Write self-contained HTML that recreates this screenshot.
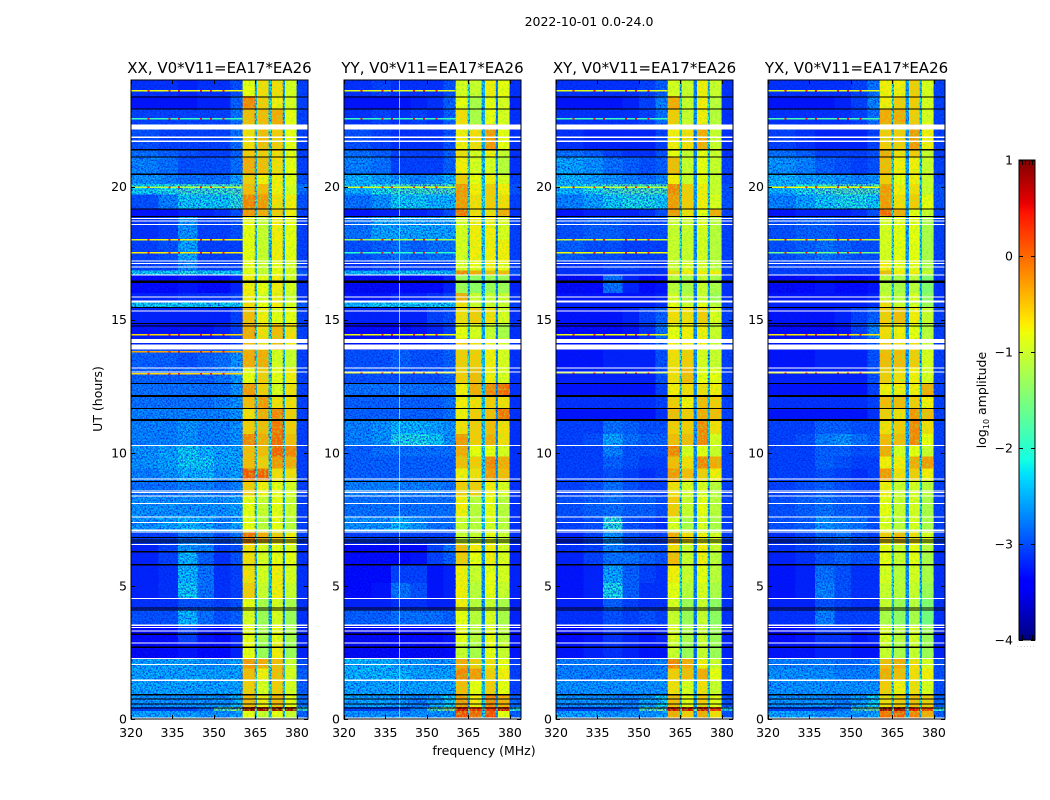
<!DOCTYPE html>
<html lang="en">
<head>
<meta charset="utf-8">
<title>2022-10-01 0.0-24.0</title>
<style>
html,body{margin:0;padding:0;background:#fff;width:1050px;height:800px;overflow:hidden}
svg{display:block}
text{font-family:"DejaVu Sans","Liberation Sans",sans-serif;fill:#000}
</style>
</head>
<body>
<svg id="chart" xmlns="http://www.w3.org/2000/svg" width="1050" height="800" viewBox="0 0 1050 800">
<defs>
<filter id="speckle" x="0" y="0" width="1" height="1" color-interpolation-filters="sRGB">
<feTurbulence type="fractalNoise" baseFrequency="0.6" numOctaves="2" seed="7"/>
<feColorMatrix type="matrix" values="0 0 0 0 0  0 0 0 0 0.12  0 0 0 0 0.92  2.2 0 0 0 -0.8"/>
</filter>
<filter id="band-speckle" x="0" y="0" width="1" height="1" color-interpolation-filters="sRGB">
<feTurbulence type="fractalNoise" baseFrequency="0.45" numOctaves="2" seed="3"/>
<feColorMatrix type="matrix" values="0 0 0 0 0.55  0 0 0 0 0.95  0 0 0 0 0.2  1.8 0 0 0 -0.75"/>
</filter>
</defs>
<rect x="0" y="0" width="1050" height="800" fill="#fff"/>
<text x="589" y="26" font-size="12.5" text-anchor="middle">2022-10-01 0.0-24.0</text>
<text x="484" y="755" font-size="12.5" text-anchor="middle">frequency (MHz)</text>
<text x="102" y="399" font-size="12.5" text-anchor="middle" transform="rotate(-90 102 399)">UT (hours)</text>
<text x="986" y="400" font-size="12.5" text-anchor="middle" transform="rotate(-90 986 400)">log<tspan font-size="8" dy="3">10</tspan><tspan dy="-3"> amplitude</tspan></text>
<text x="1017" y="647" font-size="5" letter-spacing="1.6" style="fill:#666">......</text>
<g id="panels"></g>
<g id="colorbar"></g>
</svg>
<script>
// frequency channel-group edges (MHz)
const freqEdges = [320,330,337,344,350,356,360.4,364.8,365.5,369.8,370.9,374.9,375.6,379.9,384];
// time band edges (UT hours, descending)
const timeEdges = [24,23.4,22.9,22.35,21.4,21.1,20.45,20.1,19.7,19.15,18.85,18,17.2,16.85,16.65,16,15.65,15.45,14.85,14.3,13.85,13.2,12.6,12.15,11.65,11.2,10.7,10.25,9.85,9.4,8.95,8.4,7.6,7,6.6,6.3,5.8,5.1,4.55,4.1,3.5,2.9,2.3,1.9,1.45,0.9,0.45,0.3,0];
const xTicks = [320,335,350,365,380];
const yTicks = [0,5,10,15,20];
const colorTicks = [-4,-3,-2,-1,0,1];
const panelTitles = ["XX, V0*V11=EA17*EA26","YY, V0*V11=EA17*EA26","XY, V0*V11=EA17*EA26","YX, V0*V11=EA17*EA26"];

// log10 amplitude, one row per time band, one value per channel group
const xxValues = [
[-3.1,-3.1,-3.2,-3.1,-3.1,-2.9,-.8,-2.3,-.6,-2.2,-.6,-2.4,-.9,-3],
[-3.3,-3.3,-3.3,-3.2,-3.2,-2.8,-.1,-2,-.5,-2,-.7,-2.2,-.9,-3],
[-3,-3,-3,-3,-3,-2.7,-.4,-2,-.4,-2,-.3,-2.2,-.8,-3],
[-2.9,-3,-3,-3,-3,-2.7,-.6,-2.1,-.4,-2,-.5,-2.2,-.8,-3],
[-2.7,-2.8,-2.9,-3,-3,-2.8,-.5,-2,-.5,-2,-.6,-2.2,-.8,-3],
[-2.6,-2.7,-2.9,-2.9,-2.9,-2.7,-.3,-2,-.4,-2,-.6,-2.2,-.8,-3],
[-2.5,-2.6,-2.7,-2.7,-2.7,-2.4,-.5,-2,-.7,-2,-.7,-2.2,-.8,-2.9],
[-2.2,-2.1,-1.9,-1.9,-1.9,-1.8,-.4,-1.9,-.4,-2,-.7,-2.1,-.9,-2.7],
[-2.9,-2.6,-2.2,-2.2,-2.2,-2,-.1,-2,-.2,-2,-.6,-2.1,-.7,-2.9],
[-3.3,-3.3,-3.2,-3.2,-3.1,-2.9,-.2,-2.2,-.3,-2.2,-.5,-2.3,-.7,-3],
[-3.1,-3,-2.5,-3,-3,-2.9,-.8,-2,-1,-2,-.7,-2.1,-.8,-3],
[-3,-2.9,-2.4,-3,-3,-3,-.8,-2.2,-1,-2.2,-.7,-2.3,-.8,-3],
[-3,-3,-2.6,-3,-3,-3,-.8,-2.2,-1,-2.2,-.8,-2.3,-.9,-3],
[-2.2,-2.2,-2.1,-2.2,-2.2,-2.2,-.8,-2,-1,-2,-.8,-2.2,-.9,-2.8],
[-3.4,-3.4,-3.3,-3.4,-3.4,-3.2,-.7,-2.2,-.8,-2.2,-.7,-2.3,-.9,-3.1],
[-3.2,-3.2,-3.1,-3.1,-3.1,-3,-.7,-2.2,-.9,-2.2,-.7,-2.3,-1,-3.1],
[-2.2,-2.2,-2.2,-2.2,-2.2,-2.2,-.6,-2,-.8,-2,-.7,-2.2,-.9,-2.8],
[-3.2,-3.2,-3.2,-3.2,-3.2,-3,-.4,-2,-.7,-2,-.8,-2.2,-.8,-3],
[-3.3,-3.3,-3.3,-3.3,-3.2,-3,-.3,-2,-.6,-2,-.4,-2.2,-.6,-3],
[-3.2,-3.2,-3.2,-3.2,-3.2,-3,-.4,-2,-.6,-2,-.4,-2.2,-.7,-3],
[-2.8,-2.8,-2.9,-2.8,-2.7,-2.5,-.3,-2,-.3,-2,-.9,-2.2,-1,-3],
[-2.8,-2.8,-2.8,-2.8,-2.7,-2.5,-.8,-2,-.5,-2,-.8,-2.2,-.7,-3],
[-2.7,-2.7,-2.7,-2.7,-2.7,-2.5,-.2,-2,-.5,-2,-.9,-2.2,-.6,-3],
[-2.7,-2.7,-2.7,-2.7,-2.6,-2.5,-.4,-2,-.2,-2,-.6,-2.2,-.6,-3],
[-2.6,-2.6,-2.6,-2.6,-2.6,-2.5,-.6,-2,-.3,-2,-.1,-2.2,-.5,-3],
[-2.6,-2.6,-2.5,-2.6,-2.6,-2.5,-.5,-2,-.4,-2,0,-2.2,-.5,-3],
[-2.6,-2.6,-2.5,-2.6,-2.6,-2.5,-.1,-2,-.3,-2,.05,-2.2,-.4,-3],
[-2.5,-2.4,-2.2,-2.3,-2.4,-2.4,-.4,-2,-.4,-2,.1,-2.2,-.1,-3],
[-2.5,-2.4,-2.2,-2.2,-2.4,-2.4,-.4,-2,-.5,-2,-.2,-2.2,-.3,-3],
[-2.6,-2.5,-2.3,-2.3,-2.5,-2.4,.15,-2,.1,-2,-.6,-2.2,-.6,-3],
[-2.7,-2.7,-2.6,-2.6,-2.7,-2.6,-.5,-2,-.7,-2,-.8,-2.2,-.9,-3],
[-2.5,-2.5,-2.5,-2.5,-2.5,-2.4,-.8,-2,-1,-2,-.8,-2.2,-1,-3],
[-2.5,-2.4,-2.3,-2.4,-2.6,-2.4,-.8,-2,-1.1,-2,-.8,-2.2,-1.1,-3],
[-3,-3,-2.7,-2.7,-2.9,-2.7,0,-2,-.3,-2,-.5,-2.2,-.7,-3],
[-3.2,-3,-2.5,-2.6,-3,-2.9,-.6,-2.2,-.9,-2.2,-.8,-2.4,-.9,-3.1],
[-3.2,-3,-2.3,-2.8,-3.1,-2.9,-.6,-2.2,-.9,-2.2,-.8,-2.4,-.8,-3.1],
[-3.2,-3.1,-2.3,-2.7,-3.1,-3,-.6,-2.2,-.9,-2.2,-.7,-2.4,-.9,-3.1],
[-3.2,-3.1,-2.2,-2.7,-3.1,-3,-.5,-2.2,-1,-2.2,-.7,-2.4,-1,-3.1],
[-3.1,-3.1,-2.9,-2.9,-3,-2.9,-.8,-2.3,-1.2,-2.3,-.9,-2.5,-1.2,-3.1],
[-2.9,-2.9,-2.3,-2.7,-2.9,-2.8,-.9,-2.3,-1.3,-2.3,-.9,-2.5,-1.3,-3.1],
[-3.4,-3.4,-3,-3.3,-3.4,-3.2,-.8,-2.3,-1.2,-2.3,-.8,-2.5,-1.2,-3.2],
[-3.5,-3.4,-3.3,-3.4,-3.4,-3.2,-.8,-2.4,-1.3,-2.4,-.7,-2.5,-1.3,-3.2],
[-2.4,-2.4,-2.4,-2.5,-2.5,-2.4,-.2,-2,-.3,-2,-.4,-2.2,-1,-2.9],
[-2.4,-2.4,-2.4,-2.4,-2.4,-2.4,-.4,-2,-.7,-2,-.4,-2.2,-.9,-2.8],
[-2.4,-2.4,-2.4,-2.4,-2.4,-2.4,-.5,-2,-.9,-2,-.5,-2.2,-.9,-2.8],
[-2.5,-2.5,-2.5,-2.5,-2.5,-2.3,-.4,-2,-.7,-2,-.4,-2.2,-.8,-2.7],
[-3,-3,-3,-2.7,-1.7,-1.4,.85,-1.3,.85,-1.3,.85,-1.3,.85,-1.9],
[-2.4,-2.4,-2.4,-2.5,-2.5,-2.4,-.8,-2.1,-1,-2.1,-.8,-2.2,-1,-2.8]
];
const yyValues = [
[-3.1,-3,-3.1,-3.1,-3.1,-2.9,-.9,-2,-1,-2.3,-.7,-2.6,-.8,-3.1],
[-3.3,-3.3,-3.3,-3.2,-3.1,-2.8,-.8,-2.1,-1.2,-2.3,-.8,-2.7,-.9,-3.2],
[-3.1,-3,-3.1,-3,-3.1,-2.8,-.6,-2.1,-1.2,-2.3,-.8,-2.6,-.9,-3.1],
[-2.9,-3,-3.1,-3.1,-3.1,-2.9,-.7,-2,-.6,-2.3,-.2,-2.6,-.8,-3.1],
[-2.7,-2.8,-3,-3,-3,-2.8,-.6,-1.9,-.9,-2.2,-.7,-2.6,-1,-3.1],
[-2.6,-2.7,-3,-3,-3,-2.8,-.7,-1.9,-.9,-2.2,-.9,-2.5,-1.1,-3.1],
[-2.3,-2.4,-2.5,-2.6,-2.5,-2.3,-.5,-2,-.8,-2.2,-.7,-2.4,-.9,-3],
[-2.3,-2.1,-1.9,-1.9,-1.8,-1.8,-.2,-2,-.7,-2.1,-.5,-2.5,-.7,-2.9],
[-2.7,-2.5,-2.2,-2.2,-2.3,-2.3,-.2,-2,-.6,-2.1,-.5,-2.4,-.6,-3],
[-3.3,-3.2,-3.2,-3.2,-3.1,-2.9,0,-2.1,-.6,-2.3,-.6,-2.5,-.3,-3.1],
[-2.7,-2.4,-2.4,-2.4,-2.4,-2.4,-.9,-1.9,-.7,-2.2,-.7,-2.5,-.9,-3],
[-2.9,-2.8,-2.7,-2.8,-2.7,-2.7,-.9,-2,-.7,-2.2,-.7,-2.5,-.7,-3],
[-3.1,-3,-3,-3,-3,-3,-.9,-2,-.8,-2.2,-.7,-2.5,-.8,-3],
[-2.3,-2.3,-2.2,-2.2,-2.2,-2.3,-.1,-2,-.3,-2.2,-.4,-2.4,-.4,-2.8],
[-3.5,-3.5,-3.4,-3.4,-3.4,-3.2,-1.3,-2.2,-1.4,-2.3,-1.3,-2.5,-1.3,-3.2],
[-3.3,-3.3,-3.2,-3.2,-3.1,-3,-.3,-2,-1,-2.2,-1,-2.6,-1,-3.1],
[-2.3,-2.2,-2.2,-2.2,-2.2,-2.2,-.6,-2,-1,-2.2,-1,-2.5,-1,-3],
[-3.2,-3.2,-3.2,-3.2,-3,-2.9,-.6,-2,-.5,-2.2,-.6,-2.5,-.9,-3.1],
[-3.4,-3.4,-3.4,-3.3,-3.2,-3,-.8,-2.1,-.9,-2.3,-1,-2.6,-1.2,-3.1],
[-3.3,-3.3,-3.3,-3.3,-3.2,-3,-.5,-2.1,-.6,-2.3,-.7,-2.6,-.9,-3.1],
[-2.9,-2.9,-2.8,-2.9,-2.9,-2.8,-.5,-2,-.5,-2.2,-.7,-2.5,-.9,-3.1],
[-2.9,-2.9,-2.9,-2.9,-2.9,-2.8,-.5,-2,-.4,-2.2,-.7,-2.5,-.9,-3.1],
[-2.7,-2.7,-2.7,-2.7,-2.7,-2.7,-.7,-2,-.3,-2.2,-.1,-2.5,.05,-3.1],
[-2.8,-2.8,-2.8,-2.8,-2.8,-2.7,-.7,-2,-.6,-2.2,-.5,-2.5,-.6,-3.1],
[-2.8,-2.8,-2.8,-2.8,-2.8,-2.7,-.7,-2,-.5,-2.2,-.4,-2.5,0,-3.1],
[-2.6,-2.5,-2.3,-2.3,-2.4,-2.5,-.6,-2,-.5,-2.2,-.4,-2.5,-.6,-3.1],
[-2.6,-2.5,-2.1,-2.1,-2.2,-2.5,-.2,-2,-.5,-2.2,-.3,-2.5,-.6,-3.1],
[-2.8,-2.7,-2.7,-2.7,-2.7,-2.7,-.3,-2,-.8,-2.2,-.8,-2.5,-.9,-3.1],
[-2.8,-2.8,-2.8,-2.8,-2.8,-2.8,-.4,-2,-.5,-2.2,-.1,-2.5,-.3,-3.1],
[-2.8,-2.8,-2.8,-2.8,-2.8,-2.8,-.7,-2,-.6,-2.2,-.2,-2.5,-.4,-3.1],
[-2.6,-2.6,-2.6,-2.6,-2.6,-2.7,-.5,-2,-.5,-2.2,-.7,-2.5,-.9,-3.1],
[-2.7,-2.7,-2.7,-2.7,-2.7,-2.7,-.7,-2,-1.1,-2.2,-.8,-2.5,-1.1,-3.1],
[-2.5,-2.5,-2.3,-2.5,-2.7,-2.7,-1,-2,-1.1,-2.2,-.9,-2.5,-1.1,-3.1],
[-3,-3,-3,-3,-3,-3,-1,-2,-1,-2.3,-.8,-2.6,-1,-3.1],
[-3.4,-3.4,-3.4,-3.4,-3,-2.7,-.4,-2.1,-.7,-2.4,-.7,-2.7,-.9,-3.2],
[-3.4,-3.4,-3.4,-3.3,-3,-2.8,-.5,-2.1,-.8,-2.4,-.7,-2.7,-.9,-3.2],
[-3.4,-3.4,-3,-3,-3.3,-3.2,-.7,-2.1,-1,-2.5,-.8,-2.7,-.9,-3.2],
[-3.4,-3.3,-2.7,-2.9,-3.3,-3.2,-.7,-2.1,-1.1,-2.5,-.8,-2.7,-1,-3.2],
[-3.2,-3.2,-3.1,-3.1,-3.2,-3.2,-.7,-2.1,-1.1,-2.5,-1,-2.7,-1.2,-3.2],
[-2.8,-2.8,-2.7,-2.7,-2.7,-2.8,-.8,-2.2,-1.1,-2.5,-.9,-2.7,-1.2,-3.2],
[-3.5,-3.5,-3.4,-3.4,-3.4,-3.3,-.8,-2.2,-1.1,-2.5,-.8,-2.7,-1.1,-3.3],
[-3.5,-3.5,-3.4,-3.5,-3.5,-3.4,-1,-2.2,-1.2,-2.5,-.8,-2.7,-1,-3.3],
[-2.3,-2.3,-2.4,-2.4,-2.5,-2.5,-.3,-2,-.5,-2.2,-.6,-2.5,-.8,-3],
[-2.3,-2.3,-2.3,-2.4,-2.4,-2.4,-.1,-2,-.2,-2.2,-.5,-2.5,-.7,-3],
[-2.4,-2.4,-2.4,-2.4,-2.4,-2.4,-.4,-2,-.8,-2.2,-.5,-2.5,-.8,-3],
[-2.4,-2.4,-2.5,-2.6,-2.4,-2.2,-.2,-2,-.7,-2.2,-.1,-2.4,-.3,-2.8],
[-3,-3,-3,-2.6,-1.7,-1.3,.6,-1.4,.4,-1.4,.4,-1.5,.6,-2],
[-2.5,-2.5,-2.5,-2.5,-2.5,-2.5,.2,-2,.1,-2.2,.2,-2.4,-.8,-2.8]
];
const xyValues = [
[-3.1,-3.1,-3.1,-3.1,-3,-2.8,-.9,-2.1,-1,-2.6,-.7,-2.1,-1,-3.1],
[-3.3,-3.3,-3.3,-3.2,-3,-2.6,-.3,-2,-1,-2.5,-.7,-2.1,-1.1,-3.1],
[-3.1,-3.1,-3.1,-3.1,-3,-2.7,-.5,-2,-1,-2.5,-.7,-2.1,-1.1,-3.1],
[-3.1,-3.2,-3.2,-3.2,-3.2,-3,-.7,-2.1,-.6,-2.6,-.3,-2.2,-1,-3.1],
[-2.7,-2.8,-3,-3.1,-3.1,-2.9,-.8,-2.1,-1,-2.6,-.8,-2.2,-1,-3.1],
[-2.4,-2.5,-2.7,-2.8,-2.9,-2.8,-.4,-2,-1,-2.5,-.8,-2.2,-1,-3],
[-2.3,-2.4,-2.5,-2.6,-2.7,-2.6,-.7,-2,-1,-2.5,-.8,-2.2,-1,-3],
[-2.3,-2.1,-1.9,-1.8,-1.8,-1.8,-.1,-2,-.5,-2.4,-.7,-2.1,-1,-2.9],
[-2.6,-2.4,-2.2,-2.1,-2.1,-2.2,-.2,-2,-.5,-2.4,-.7,-2.1,-.9,-2.9],
[-3.3,-3.2,-3.2,-3.2,-3.1,-2.9,-.2,-2,-.6,-2.5,-.8,-2.2,-.3,-3],
[-2.9,-2.8,-2.8,-2.9,-2.9,-2.9,-1,-2,-1,-2.5,-.9,-2.2,-1.1,-3],
[-2.8,-2.9,-2.9,-3,-3,-3,-1,-2,-1,-2.5,-.9,-2.2,-1.1,-3],
[-3.1,-3.1,-3,-3,-3.1,-3.1,-1,-2,-.9,-2.5,-.9,-2.2,-1.1,-3],
[-3.1,-3.1,-3.1,-3.1,-3.1,-3.1,-.6,-2,-.7,-2.5,-.7,-2.2,-.7,-3],
[-3.5,-3.4,-2.7,-3.2,-3.4,-3.3,-1.1,-2.1,-1.2,-2.6,-1,-2.3,-1.2,-3.1],
[-3.3,-3.3,-3.3,-3.3,-3.3,-3.2,-.9,-2.1,-1.1,-2.6,-1,-2.3,-1.3,-3.1],
[-3.2,-3.2,-3.2,-3.2,-3.2,-3.1,-.8,-2,-1,-2.5,-.8,-2.2,-1.1,-3],
[-3.3,-3.3,-3.3,-3.2,-3,-2.8,-.6,-2,-.6,-2.5,-.5,-2.2,-.9,-3],
[-3.4,-3.4,-3.4,-3.3,-3.1,-2.7,-.8,-2,-.7,-2.5,-.7,-2.2,-1,-3],
[-3.3,-3.3,-3.3,-3.3,-3.1,-2.8,-.7,-2,-.7,-2.5,-.7,-2.2,-1,-3],
[-3.3,-3.3,-3.2,-3.2,-3.2,-2.9,-.6,-2,-.5,-2.5,-.9,-2.2,-1,-3],
[-3.2,-3.2,-3.2,-3.2,-3.2,-2.9,-.6,-2,-.4,-2.5,-.8,-2.2,-.8,-3],
[-3.3,-3.3,-3.3,-3.3,-3.3,-3,-.7,-2,-.6,-2.5,-.6,-2.2,-.7,-3],
[-3.1,-3.1,-3.1,-3.1,-3.1,-3,-.5,-2,-.7,-2.5,-.4,-2.2,-.5,-3],
[-3.3,-3.3,-3.3,-3.3,-3.3,-3.1,-.4,-2,-.5,-2.5,-.3,-2.2,-.4,-3],
[-3,-3,-2.7,-2.8,-2.9,-2.9,-.5,-2,-.5,-2.5,-.1,-2.2,-.6,-3],
[-3,-2.9,-2.4,-2.7,-2.8,-2.8,-.4,-2,-.4,-2.5,-.1,-2.2,-.9,-3],
[-3,-3,-2.6,-2.9,-2.9,-2.9,-.1,-2,-.9,-2.5,-.8,-2.2,-1,-3],
[-3,-3,-2.8,-2.9,-3,-3,-.4,-2,-.6,-2.5,-.1,-2.2,-.3,-3],
[-3,-3,-2.9,-3,-3.1,-3,-.2,-2,-.4,-2.5,-.5,-2.2,-.7,-3],
[-3,-2.9,-2.7,-2.9,-3,-3,-.6,-2,-.9,-2.5,-.9,-2.2,-1.1,-3],
[-2.9,-2.8,-2.7,-2.8,-2.8,-2.9,-.5,-2,-1,-2.5,-.8,-2.2,-1.1,-3],
[-3,-2.9,-2,-2.9,-3,-3.1,-.9,-2,-1.2,-2.5,-.9,-2.2,-1.2,-3],
[-3.2,-3,-2.5,-2.9,-3,-3,-.3,-2,-.6,-2.5,-.7,-2.2,-.9,-3],
[-3.1,-3,-2.6,-2.8,-2.9,-2.9,-.6,-2.1,-1,-2.6,-.7,-2.3,-1,-3.1],
[-3.2,-3,-2.7,-2.7,-2.8,-2.9,-.4,-2.1,-1,-2.6,-.7,-2.3,-1.1,-3.1],
[-3.3,-3.2,-2.4,-2.8,-3,-3.1,-.7,-2.1,-1,-2.6,-.8,-2.3,-1.1,-3.1],
[-3.3,-3.2,-2.1,-2.8,-3.1,-3.1,-.8,-2.1,-1.1,-2.6,-.9,-2.3,-1.2,-3.1],
[-3.2,-3.2,-2.8,-3,-3.1,-3.1,-.9,-2.1,-1.3,-2.6,-1,-2.3,-1.4,-3.1],
[-3.1,-3.1,-2.9,-3,-2.9,-3,-1,-2.1,-1.3,-2.6,-1,-2.3,-1.4,-3.1],
[-3.4,-3.3,-3.1,-3.2,-3.3,-3.2,-.9,-2.2,-1.2,-2.7,-1,-2.4,-1.3,-3.2],
[-3.3,-3.2,-3.1,-3.2,-3.3,-3.3,-1,-2.2,-1.3,-2.7,-1,-2.4,-1.3,-3.2],
[-2.6,-2.6,-2.6,-2.7,-2.7,-2.6,-.1,-2,-.3,-2.4,-.7,-2.1,-1,-3],
[-2.6,-2.6,-2.6,-2.6,-2.6,-2.6,-.5,-2,-.4,-2.4,-.3,-2.1,-.8,-3],
[-2.5,-2.5,-2.5,-2.5,-2.5,-2.5,-.6,-2,-.9,-2.4,-.6,-2.1,-1,-3],
[-2.5,-2.5,-2.5,-2.6,-2.4,-2.2,-.4,-2,-.8,-2.4,-.5,-2.1,-.8,-2.9],
[-3,-3,-3,-2.7,-1.7,-1.5,.6,-1.4,.6,-1.6,.6,-1.4,.4,-2],
[-2.4,-2.4,-2.5,-2.5,-2.5,-2.4,-.3,-2,-.5,-2.4,-.3,-2.1,-.6,-2.9]
];
const yxValues = [
[-3.1,-3.1,-3.1,-3.1,-3,-2.7,-.7,-2.1,-.7,-2.4,-.5,-2.2,-.9,-3],
[-3.3,-3.3,-3.3,-3.2,-3,-2.6,-.7,-2,-.5,-2.4,-.5,-2.2,-.9,-3],
[-3.1,-3.1,-3.1,-3.1,-3,-2.7,-.3,-2,-.3,-2.4,-.5,-2.2,-.9,-3],
[-3,-3.1,-3.2,-3.2,-3.2,-3,-.5,-2,-.5,-2.4,-.2,-2.2,-.7,-3],
[-2.7,-2.8,-3,-3,-3,-2.9,-.3,-2,-.6,-2.4,-.5,-2.2,-1,-3],
[-2.5,-2.6,-2.8,-2.9,-3,-2.9,-.4,-2,-.7,-2.4,-.7,-2.2,-1,-3],
[-2.3,-2.4,-2.4,-2.5,-2.6,-2.5,-.5,-2,-.8,-2.4,-.7,-2.2,-1,-3],
[-2.3,-2.1,-1.9,-1.8,-1.8,-1.8,-.2,-2,-.7,-2.3,-.6,-2.2,-1,-2.9],
[-2.6,-2.4,-2.2,-2.1,-2.1,-2.2,-.2,-2,-.6,-2.3,-.5,-2.2,-.8,-2.9],
[-3.3,-3.2,-3.2,-3.2,-3.1,-2.9,.05,-2,-.3,-2.4,-.8,-2.2,-1,-3],
[-2.9,-2.8,-2.8,-2.9,-2.9,-2.9,-.9,-2,-.8,-2.4,-.8,-2.2,-1.2,-3],
[-2.9,-2.8,-2.7,-2.8,-2.9,-2.9,-.9,-2,-.8,-2.4,-.8,-2.2,-1.2,-3],
[-3,-3,-3,-3,-3,-3,-.7,-2,-.8,-2.4,-.8,-2.2,-1.2,-3],
[-3,-3,-3,-3,-3,-3,-.4,-2,-.7,-2.4,-.7,-2.2,-1,-3],
[-3.5,-3.4,-3.3,-3.4,-3.4,-3.3,-1.1,-2.1,-1.2,-2.5,-1.1,-2.3,-1.5,-3.1],
[-3.3,-3.3,-3.3,-3.3,-3.3,-3.2,-1,-2.1,-1.1,-2.5,-.9,-2.3,-1.4,-3.1],
[-3.2,-3.2,-3.2,-3.2,-3.2,-3.1,-.6,-2,-1,-2.4,-.9,-2.2,-1.3,-3],
[-3.3,-3.3,-3.3,-3.2,-3,-2.8,-.5,-2,-.4,-2.4,-.7,-2.2,-1,-3],
[-3.4,-3.4,-3.4,-3.3,-3,-2.6,-.6,-2,-.7,-2.4,-.8,-2.2,-1.1,-3],
[-3.3,-3.3,-3.3,-3.3,-3.1,-2.8,-.5,-2,-.6,-2.4,-.6,-2.2,-1,-3],
[-3.3,-3.3,-3.2,-3.2,-3.2,-2.9,-.4,-2,-.4,-2.4,-.5,-2.2,-.9,-3],
[-3.2,-3.2,-3.2,-3.2,-3.2,-2.9,-.5,-2,-.6,-2.4,-.7,-2.2,-.9,-3],
[-3.3,-3.3,-3.3,-3.3,-3.3,-3,-.7,-2,-.7,-2.4,-.7,-2.2,-.3,-3],
[-3.1,-3.1,-3.1,-3.1,-3.1,-3,-.4,-2,-.4,-2.4,-.5,-2.2,-.7,-3],
[-3.3,-3.3,-3.3,-3.3,-3.3,-3.1,-.5,-2,-.6,-2.4,-.2,-2.2,-.4,-3],
[-3,-3,-2.8,-2.8,-2.9,-2.9,-.6,-2,-.5,-2.4,-.1,-2.2,-.6,-3],
[-3,-2.9,-2.6,-2.5,-2.7,-2.8,-.4,-2,-.4,-2.4,-.1,-2.2,-.8,-3],
[-3,-3,-2.8,-2.8,-2.9,-2.9,-.3,-2,-.9,-2.4,-.8,-2.2,-1,-3],
[-3,-3,-2.8,-2.9,-3,-3,-.7,-2,-.7,-2.4,-.3,-2.2,-.2,-3],
[-3,-3,-2.9,-3,-3.1,-3,-.2,-2,-.6,-2.4,-.5,-2.2,-.7,-3],
[-3,-2.9,-2.8,-2.9,-3,-3,-.7,-2,-1,-2.4,-.9,-2.2,-1.1,-3],
[-2.9,-2.8,-2.7,-2.8,-2.8,-2.9,-.8,-2,-1,-2.4,-.9,-2.2,-1.2,-3],
[-2.9,-2.8,-2.5,-2.6,-2.7,-2.9,-.9,-2,-1.1,-2.4,-.9,-2.2,-1.2,-3],
[-3.1,-3,-2.8,-2.7,-2.9,-3,-.5,-2,-.4,-2.4,-.6,-2.2,-.9,-3],
[-3.1,-3,-2.9,-2.8,-2.9,-2.9,-.8,-2.1,-1,-2.5,-.8,-2.3,-1.1,-3.1],
[-3.2,-3.1,-2.9,-2.8,-2.9,-2.9,-.8,-2.1,-1,-2.5,-.8,-2.3,-1.2,-3.1],
[-3.3,-3.2,-2.7,-2.9,-3.1,-3.1,-.9,-2.1,-1.1,-2.5,-.9,-2.3,-1.2,-3.1],
[-3.3,-3.2,-2.6,-2.9,-3.1,-3.1,-1,-2.1,-1.1,-2.5,-1,-2.3,-1.3,-3.1],
[-3.2,-3.2,-2.9,-3,-3.1,-3.1,-1,-2.1,-1.3,-2.5,-1.1,-2.3,-1.5,-3.1],
[-3.1,-3.1,-2.6,-3,-3,-3,-1.2,-2.1,-1.4,-2.5,-1.2,-2.3,-1.6,-3.1],
[-3.4,-3.3,-3.1,-3.1,-3.3,-3.2,-.9,-2.2,-1.1,-2.6,-.9,-2.4,-1.3,-3.2],
[-3.3,-3.3,-3.2,-3.2,-3.3,-3.3,-1,-2.2,-1.2,-2.6,-1,-2.4,-1.3,-3.2],
[-2.6,-2.6,-2.6,-2.7,-2.7,-2.6,-.4,-2,-.3,-2.3,-.6,-2.1,-.9,-2.9],
[-2.5,-2.5,-2.5,-2.6,-2.6,-2.6,-.3,-2,-.4,-2.3,-.6,-2.1,-.7,-2.9],
[-2.5,-2.5,-2.5,-2.5,-2.5,-2.5,-.5,-2,-.7,-2.3,-.6,-2.1,-.9,-2.9],
[-2.5,-2.5,-2.5,-2.6,-2.4,-2.2,-.6,-2,-.5,-2.3,-.4,-2.1,-.5,-2.8],
[-3,-3,-3,-2.7,-1.7,-1.5,.85,-1.4,.85,-1.6,.5,-1.4,.3,-1.9],
[-2.4,-2.4,-2.5,-2.5,-2.5,-2.4,0,-2,.1,-2.3,-.1,-2.1,-.3,-2.8]
];

// interference rows [UT hours, log10 amplitude] crossing the low channels
const xxInterference = [[23.59,-.8],[22.54,-1.9],[19.97,-1.2],[18,-.8],[17.52,-.7],[14.43,-.6],[13.8,-.3],[12.97,-.6]];
const yyInterference = [[23.59,-.9],[22.54,-1.9],[19.97,-1],[18,-1.3],[17.52,-2],[14.43,-.8],[13,-.8]];
const xyInterference = [[23.59,-.9],[22.54,-1.9],[19.97,-1.1],[18,-1],[17.52,-.8],[14.43,-.8],[13,-1]];
const yxInterference = [[23.59,-.9],[22.54,-1.8],[19.97,-.8],[18,-1],[17.52,-1.6],[14.43,-.7],[13,-.8]];
// channels where interference rows peak (MHz)
const peakChannels = [326,333.5,337,345,348.5,353];
const peakAmplitude = 0.45;
// persistent single-channel spur in the YY panel: [MHz, log10 amplitude]
const yySpur = [339.9,-2.1];

// flagged integrations (white) and zero-valued integrations (black): [upper UT, lower UT]
const whiteFlags = [[22.33,22.14],[21.87,21.83],[21.72,21.68],[18.81,18.77],[18.72,18.68],[18.59,18.55],[17.22,17.18],[17.12,17.08],[16.99,16.95],[16.7,16.65],[15.87,15.83],[15.72,15.65],[15.35,15.31],[14.27,14.12],[14.06,13.88],[13.2,13.16],[13.05,13.01],[10.29,10.25],[9.04,9],[8.59,8.55],[8.52,8.48],[8.4,8.36],[8.11,8.07],[7.61,7.57],[7.4,7.36],[7.11,7.07],[7.05,7.01],[6.57,6.53],[4.55,4.51],[3.54,3.5],[3.46,3.42],[3.33,3.29],[2.88,2.84],[2.3,2.26],[2.07,2.03],[1.48,1.42],[0.06,0.02]];
const blackFlags = [[23.38,23.34],[22.93,22.89],[21.4,21.36],[21.13,21.09],[20.48,20.44],[19.18,19.14],[18.89,18.85],[16.47,16.37],[15.47,15.43],[14.87,14.83],[14.78,14.74],[12.62,12.58],[12.16,12.09],[11.68,11.64],[11.26,11.19],[8.94,8.9],[6.84,6.8],[6.74,6.7],[6.66,6.62],[6.31,6.25],[5.82,5.76],[4.19,4.15],[4.11,4.07],[3.22,3.16],[2.73,2.67],[0.93,0.89],[0.77,0.73],[0.58,0.54],[0.44,0.4]];

const panelValues = [xxValues,yyValues,xyValues,yxValues];
const panelInterference = [xxInterference,yyInterference,xyInterference,yxInterference];
const panelLefts = [131,344,556,768];
const panelWidth = 177;
const plotTop = 80, plotBottom = 719;
const vMin = -4, vMax = 1;

const NS = "http://www.w3.org/2000/svg";
function make(tag, attrs, parent){
  const el = document.createElementNS(NS, tag);
  for (const k in attrs) el.setAttribute(k, attrs[k]);
  parent.appendChild(el);
  return el;
}
function xScale(left, mhz){ return left + (mhz - 320) * panelWidth / 64; }
function yScale(ut){ return plotBottom - ut * (plotBottom - plotTop) / 24; }
function cScale(v){ return Math.max(0, Math.min(1, (v - vMin) / (vMax - vMin))); }
function jet(t){
  const ch = (pts) => {
    for (let i = 1; i < pts.length; i++) {
      if (t <= pts[i][0]) {
        const f = (t - pts[i-1][0]) / (pts[i][0] - pts[i-1][0]);
        return Math.round(255 * (pts[i-1][1] + f * (pts[i][1] - pts[i-1][1])));
      }
    }
    return Math.round(255 * pts[pts.length-1][1]);
  };
  const r = ch([[0,0],[.35,0],[.66,1],[.89,1],[1,.5]]);
  const g = ch([[0,0],[.125,0],[.375,1],[.64,1],[.91,0],[1,0]]);
  const b = ch([[0,.5],[.11,1],[.34,1],[.65,0],[1,0]]);
  return "rgb(" + r + "," + g + "," + b + ")";
}

const panelsGroup = document.getElementById("panels");
panelLefts.forEach(function(left, p){
  const g = make("g", {}, panelsGroup);
  
  
  const values = panelValues[p];
  const cells = make("g", {"shape-rendering":"crispEdges"}, g);
  
  
  values.forEach(function(row, r){
    row.forEach(function(v, c){
      const x0 = xScale(left, freqEdges[c]), x1 = xScale(left, freqEdges[c+1]);
      const y0 = yScale(timeEdges[r]), y1 = yScale(timeEdges[r+1]);
      const cell = make("rect", {x:x0, y:y0, width:x1-x0, height:y1-y0, fill:jet(cScale(v))}, cells);
      
      
    });
  });
  [[0,6],[7,8],[9,10],[11,12],[13,14]].forEach(function(span){
    const x0 = xScale(left, freqEdges[span[0]]), x1 = xScale(left, freqEdges[span[1]]);
    const tex = make("rect", {x:x0, y:plotTop, width:x1-x0, height:plotBottom-plotTop, fill:"#000", filter:"url(#speckle)"}, cells);
    
    
  });
  [[6,7],[8,9],[10,11],[12,13]].forEach(function(span){
    const x0 = xScale(left, freqEdges[span[0]]), x1 = xScale(left, freqEdges[span[1]]);
    const tex = make("rect", {x:x0, y:plotTop, width:x1-x0, height:plotBottom-plotTop, fill:"#000", filter:"url(#band-speckle)"}, cells);
    
    
  });
  if (p === 1) {
    const spur = make("rect", {x:xScale(left, yySpur[0]), y:plotTop, width:1.2, height:plotBottom-plotTop, fill:jet(cScale(yySpur[1]))}, cells);
    
    
  }
  panelInterference[p].forEach(function(item){
    const y = yScale(item[0]);
    const line = make("rect", {x:xScale(left,320), y:y-0.75, width:xScale(left,360.4)-xScale(left,320), height:1.5, fill:jet(cScale(item[1]))}, cells);
    
    
    peakChannels.forEach(function(ch){
      const peak = make("rect", {x:xScale(left,ch), y:y-0.75, width:2, height:1.5, fill:jet(cScale(peakAmplitude))}, cells);
      
      
    });
  });
  const masks = [[whiteFlags,"#fff","flagged-row"],[blackFlags,"#000","zero-row"]];
  masks.forEach(function(m){
    m[0].forEach(function(f){
      const h = Math.max(1, yScale(f[1]) - yScale(f[0]));
      const band = make("rect", {x:left, y:yScale(f[0]), width:panelWidth, height:h, fill:m[1]}, cells);
      
      
    });
  });
  const frame = make("rect", {x:left, y:plotTop, width:panelWidth, height:plotBottom-plotTop, fill:"none", stroke:"#000", "stroke-width":1}, g);
  
  
  const title = make("text", {x:left + panelWidth/2, y:73, "font-size":15, "text-anchor":"middle"}, g);
  
  
  title.textContent = panelTitles[p];
  xTicks.forEach(function(t){
    const x = Math.round(xScale(left, t)) + 0.5;
    const a = make("line", {x1:x, x2:x, y1:plotBottom, y2:plotBottom-4, stroke:"#000", "stroke-width":1}, g);
    
    
    const b = make("line", {x1:x, x2:x, y1:plotTop, y2:plotTop+4, stroke:"#000", "stroke-width":1}, g);
    
    
    const lab = make("text", {x:xScale(left, t), y:737, "font-size":12.5, "text-anchor":"middle"}, g);
    
    
    lab.textContent = t;
  });
  yTicks.forEach(function(t){
    const y = Math.round(yScale(t)) + 0.5;
    const a = make("line", {x1:left, x2:left+4, y1:y, y2:y, stroke:"#000", "stroke-width":1}, g);
    
    
    const b = make("line", {x1:left+panelWidth, x2:left+panelWidth-4, y1:y, y2:y, stroke:"#000", "stroke-width":1}, g);
    
    
    const lab = make("text", {x:left-4, y:yScale(t)+4.5, "font-size":12.5, "text-anchor":"end"}, g);
    
    
    lab.textContent = t;
  });
});

// colorbar
const cbGroup = document.getElementById("colorbar");
const cbX = 1019, cbW = 16, cbTop = 160, cbBottom = 640;
function cbY(v){ return cbBottom - (v - vMin) * (cbBottom - cbTop) / (vMax - vMin); }
const cbRamp = make("g", {"shape-rendering":"crispEdges"}, cbGroup);


for (let py = cbTop; py < cbBottom; py += 2) {
  const step = make("rect", {x:cbX, y:py, width:cbW, height:2, fill:jet(1 - (py + 1 - cbTop) / (cbBottom - cbTop))}, cbRamp);
  
  
}
const cbFrame = make("rect", {x:cbX, y:cbTop, width:cbW, height:cbBottom-cbTop, fill:"none", stroke:"#000", "stroke-width":1}, cbGroup);


colorTicks.forEach(function(v){
  const y = Math.round(cbY(v)) + 0.5;
  const a = make("line", {x1:cbX, x2:cbX+4, y1:y, y2:y, stroke:"#000", "stroke-width":1}, cbGroup);
  
  
  const b = make("line", {x1:cbX+cbW, x2:cbX+cbW-4, y1:y, y2:y, stroke:"#000", "stroke-width":1}, cbGroup);
  
  
  const lab = make("text", {x:1013, y:cbY(v)+4.5, "font-size":12.5, "text-anchor":"end"}, cbGroup);
  
  
  lab.textContent = String(v).replace("-", "\u2212");
});
for (let i = 1; i <= 4; i++) {
  const x = Math.round(cbX + i * 3.2) + 0.5;
  const t1 = make("line", {x1:x, x2:x, y1:cbTop, y2:cbTop+5, stroke:"#000", "stroke-width":1}, cbGroup);
  
  
  const t2 = make("line", {x1:x, x2:x, y1:cbBottom, y2:cbBottom-5, stroke:"#000", "stroke-width":1}, cbGroup);
  
  
}
</script>
</body>
</html>
